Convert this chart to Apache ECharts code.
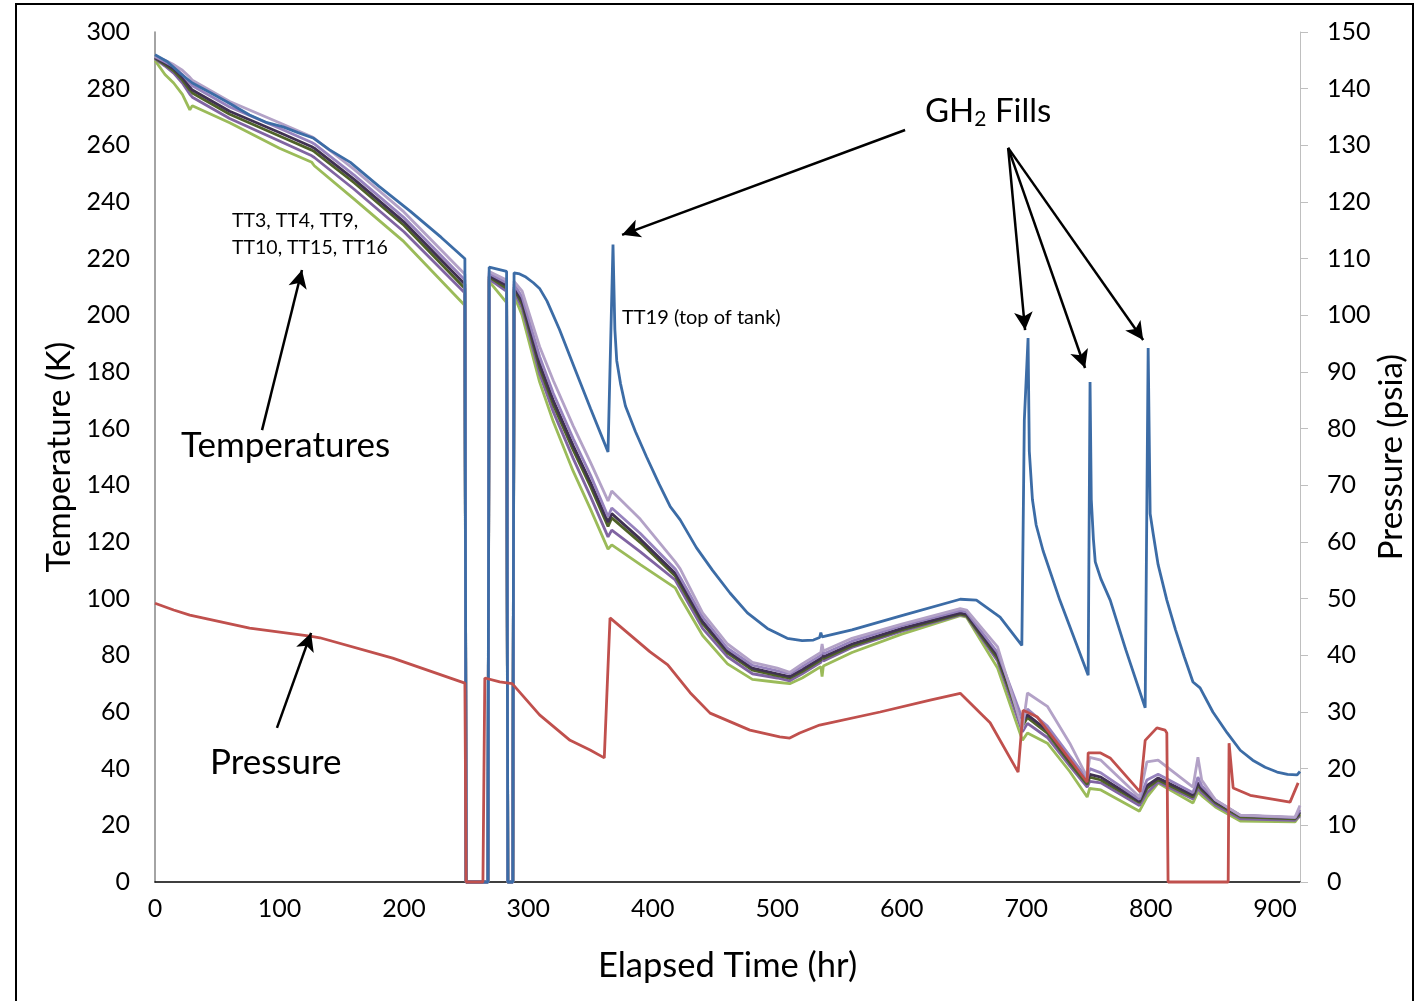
<!DOCTYPE html>
<html>
<head>
<meta charset="utf-8">
<script src="https://cdn.jsdelivr.net/npm/echarts@6/dist/echarts.min.js"></script>
<style>
  html, body { margin: 0; padding: 0; background: #fff; }
  #chart { width: 1416px; height: 1001px; }
</style>
</head>
<body>
<div id="chart"></div>
<script>
// shared time base (hr) for the six tank wall sensors
const bundleTime = [0, 8, 15, 22, 28, 30,
  60, 100, 126, 128, 160, 200, 249, 250, 267.5, 268.5, 282.5, 283.5,
  287.5, 288.5, 295, 309, 320, 336, 350, 364, 367, 390, 418, 422,
  440, 460, 480, 500, 510, 520, 535, 536, 537, 560, 600, 647,
  652, 677, 697, 701, 717, 735, 749, 751, 760, 791, 797, 806,
  834, 838, 841, 852, 872, 916, 920];

// temperatures (K)
const tt3 = [291.5, 290, 288.5, 286.5, 284, 283,
  275.5, 268, 263, 262.5, 251.5, 236.5, 214.5, 0, 0, 215.5, 212.5, 0,
  0, 212, 208.5, 189, 177, 161, 148, 134.5, 138, 128, 113, 110.5,
  95, 84, 77.5, 75.5, 74, 77, 81, 84, 81.5, 86, 91, 96.5,
  96, 83, 54, 66.7, 62, 49, 37, 44, 43, 30, 42.4, 43,
  33.5, 44, 36, 29, 23.6, 22.9, 27];
const tt4 = [291, 289, 287, 284, 280.5, 279.5,
  272, 264.5, 259.5, 259, 248, 233, 211, 0, 0, 214, 210.5, 0,
  0, 210, 205, 183, 170, 154, 141, 127, 130, 121, 109, 106,
  92, 81.5, 75.5, 73.5, 72.5, 75, 79, 82, 79.5, 84, 89.5, 95,
  94.5, 80, 56.5, 59, 53.5, 43, 35.5, 38, 37, 28.5, 34, 36.7,
  30.7, 35, 33, 28.5, 23.5, 22.6, 24.7];
const tt9 = [291.3, 289.5, 287.8, 285, 282, 281,
  273.5, 266, 261, 260.5, 249.5, 234.5, 212.5, 0, 0, 214.8, 211.5, 0,
  0, 211, 206.5, 185.5, 172.5, 156.5, 143.5, 129, 132, 123, 110.5, 107.5,
  93.5, 82.5, 76.5, 74.5, 73.5, 76, 80, 83, 80.5, 85, 90.5, 95.8,
  95.3, 81, 57.5, 61, 55, 44.5, 36.5, 40, 38.5, 29.2, 36, 38,
  31.5, 37, 34, 29, 23.5, 22.7, 25.5];
const tt10 = [290.8, 288.5, 286.3, 283, 279.5, 278.5,
  271, 263.3, 258.3, 257.8, 246.8, 231.8, 209.5, 0, 0, 213.5, 209.5, 0,
  0, 209.3, 204, 181.5, 168.5, 152.5, 139.5, 125.5, 128.5, 119.8, 108, 105,
  91.2, 80.8, 74.8, 72.8, 72, 74.3, 78.3, 81, 78.8, 83.3, 89, 94.5,
  94, 79, 55, 58, 52.5, 42, 34.5, 37, 36, 28, 33, 36,
  30, 34.2, 32.5, 28, 23, 22.3, 24];
const tt15 = [290.6, 288, 285.5, 282, 278, 277,
  269.5, 261.5, 256.3, 255.7, 244.5, 229.5, 207.9, 0, 0, 212.8, 208.5, 0,
  0, 208.5, 202.5, 179.5, 166, 149.5, 136, 121.8, 124.2, 116.5, 106.6, 103.5,
  89.5, 79.5, 73.5, 72, 71, 73.5, 77.5, 80, 78, 82.8, 88.5, 94.3,
  93.8, 78, 53, 56, 51, 41, 33.5, 35.5, 35, 27, 31.5, 35.3,
  29.3, 33, 31.5, 27.2, 22.3, 21.8, 23.3];
const tt16 = [290, 285, 282, 278, 272.5, 274,
  268, 259, 254, 252.8, 241, 226, 203.5, 0, 0, 212, 204.5, 0,
  0, 207, 200, 176.5, 162.5, 145, 131.5, 117.5, 119, 112, 103.8, 100.5,
  87, 77, 71.5, 70.5, 70, 72, 76, 72.5, 76.2, 81, 87.5, 94,
  93.5, 75.5, 50, 52.6, 49, 39, 30, 33, 32.5, 25, 30, 34.9,
  27.9, 31.8, 30.5, 26.5, 21.5, 21.2, 23.6];

// TT19, top of tank
const tt19Time = [0, 10, 20, 30, 45, 58, 76, 90, 103, 115,
  127, 140, 157, 180, 205, 230, 249, 250, 267.5, 268.5,
  282.5, 283.5, 287.5, 288.5, 293, 298, 304, 309, 315, 325,
  337, 350, 364, 368, 369.5, 371, 374, 378, 386, 395,
  405, 414, 422, 435, 448, 462, 476, 492, 508, 520,
  529, 534, 535, 536, 560, 600, 647, 660, 679, 696.5,
  698.5, 701.5, 702.5, 705, 708, 713.5, 727, 749.8, 751.3, 752.3,
  754, 755.5, 760, 767.5, 780, 795.6, 798, 799.6, 802, 806,
  813, 820, 827, 834, 839.7, 850, 861.5, 872, 882, 892,
  901.6, 910, 917.7, 920];
const tt19Temp = [292, 289.5, 285.5, 282, 278.5, 275.3, 270.7, 268, 266.5, 264.5,
  262.6, 258.5, 254, 245.5, 236.8, 227.5, 220, 0, 0, 217,
  215.5, 0, 0, 215, 214.6, 213.5, 211.5, 209.5, 205, 195,
  181.5, 167, 151.8, 225, 195, 184, 176, 168, 159, 150,
  140.5, 132.5, 127.8, 118, 110, 102, 95, 89.5, 86, 85.2,
  85.4, 86.3, 88, 86.5, 89, 94, 99.8, 99.5, 93.5, 83.5,
  163, 192, 152, 135, 126, 117, 99.5, 73, 176.5, 135,
  121, 113, 107, 99.5, 82, 61.5, 188.5, 130, 123, 112,
  99.5, 89, 79.5, 70.6, 68.5, 60, 52.6, 46.5, 43, 40.5,
  38.8, 38, 37.8, 39];

// tank pressure (psia), right axis
const pressureTime = [0, 15, 28, 76, 124.5, 132.5, 191, 249, 250, 263.5,
  265, 277, 287, 309, 333.5, 349.6, 361, 365.6, 397.8, 412,
  430, 446, 478, 502, 510, 518, 534, 582.6, 622.8, 647,
  671, 693.5, 697.5, 709, 749, 749.8, 759.4, 767.4, 791.5, 795.6,
  805, 811.6, 813, 814, 862.3, 863, 866.3, 880, 912, 918.5];
const pressurePsia = [49.2, 48, 47.1, 44.8, 43.4, 43.1, 39.5, 35.1, 0, 0,
  36, 35.3, 35, 29.5, 25, 23.3, 21.9, 46.6, 40.6, 38.3,
  33.4, 29.8, 26.8, 25.6, 25.4, 26.3, 27.7, 30, 32.1, 33.3,
  28.1, 19.4, 30.3, 29.1, 17.6, 22.8, 22.8, 21.9, 15.9, 25,
  27.2, 26.8, 26.3, 0, 0, 24.5, 16.6, 15.3, 14.1, 17.5];

// annotation arrows [t0, T0, t1, T1] in left-axis units
const arrows = [
  [602.7, 265.4, 375.3, 228.4],
  [685.5, 259.1, 699.1, 194.8],
  [685.5, 259.1, 747.3, 181.4],
  [685.5, 259.1, 794, 191.3],
  [86, 159.5, 118.1, 216],
  [98, 54.4, 125.4, 87.9]
];

const FONT = 'Lato';

function pairs(xs, ys) {
  return xs.map((x, i) => [x, ys[i]]);
}

function lineSerie(name, color, time, values, axis) {
  return {
    name: name,
    type: 'line',
    yAxisIndex: axis,
    data: pairs(time, values),
    showSymbol: false,
    symbol: 'none',
    clip: false,
    lineStyle: { color: color, width: 2.8 },
    emphasis: { disabled: true }
  };
}

let series = [
  lineSerie('TT16', '#9BBB59', bundleTime, tt16, 0),
  lineSerie('TT15', '#8064A2', bundleTime, tt15, 0),
  lineSerie('TT10', '#4F6228', bundleTime, tt10, 0),
  lineSerie('TT4', '#403152', bundleTime, tt4, 0),
  lineSerie('TT9', '#9783BE', bundleTime, tt9, 0),
  lineSerie('TT3', '#B3A2C7', bundleTime, tt3, 0),
  lineSerie('TT19', '#3C6CA6', tt19Time, tt19Temp, 0),
  lineSerie('Pressure', '#C0504D', pressureTime, pressurePsia, 1),
  {
    type: 'line',
    yAxisIndex: 0,
    data: [],
    silent: true,
    markLine: {
      silent: true,
      animation: false,
      symbol: ['none', 'arrow'],
      symbolSize: [14, 18],
      label: { show: false },
      emphasis: { disabled: true },
      lineStyle: { color: '#000', width: 2.5, type: 'solid' },
      data: arrows.map(a => [{ coord: [a[0], a[1]] }, { coord: [a[2], a[3]] }])
    }
  }
];

const labelStyle = { color: '#000', fontSize: 25, fontFamily: FONT };
const nameStyle = { color: '#000', fontSize: 33, fontFamily: FONT };

let option = {
  animation: false,
  backgroundColor: '#fff',
  grid: { left: 155, right: 116, top: 32, bottom: 119, outerBoundsMode: 'none', containLabel: false },
  xAxis: {
    type: 'value', min: 0, max: 920, interval: 100,
    name: 'Elapsed Time (hr)', nameLocation: 'middle', nameGap: 66,
    nameTextStyle: Object.assign({}, nameStyle, { fontSize: 34.5 }),
    axisLine: { lineStyle: { color: '#000', width: 1.5 } },
    axisTick: { show: false },
    splitLine: { show: false },
    axisLabel: Object.assign({ margin: 14, showMaxLabel: false }, labelStyle)
  },
  yAxis: [{
    type: 'value', min: 0, max: 300, interval: 20, position: 'left',
    name: 'Temperature (K)', nameLocation: 'middle', nameRotate: 90, nameGap: 78,
    nameTextStyle: nameStyle,
    axisLine: { show: true, lineStyle: { color: '#868686', width: 1.5 } },
    axisTick: { show: false },
    splitLine: { show: false },
    axisLabel: Object.assign({ margin: 25 }, labelStyle)
  }, {
    type: 'value', min: 0, max: 150, interval: 10, position: 'right',
    axisLine: { show: true, lineStyle: { color: '#BFBFBF', width: 1 } },
    axisTick: { show: true, length: 8, lineStyle: { color: '#BFBFBF' } },
    splitLine: { show: false },
    axisLabel: Object.assign({ margin: 27 }, labelStyle)
  }],
  graphic: [
    { type: 'rect', shape: { x: 16, y: 4, width: 1397, height: 1010 },
      style: { fill: 'none', stroke: '#000', lineWidth: 2 }, silent: true },
    { type: 'text', x: 1391, y: 457, rotation: Math.PI / 2, silent: true,
      style: { text: 'Pressure (psia)', fontSize: 33, fontFamily: FONT, fill: '#000',
        align: 'center', verticalAlign: 'middle' } },
    { type: 'text', x: 925, y: 92, silent: true,
      style: { text: '{a|GH}{b|2}{a| Fills}', fill: '#000',
        rich: { a: { fontSize: 33, fontFamily: FONT, fill: '#000' },
                b: { fontSize: 21, fontFamily: FONT, fill: '#000', padding: [17, 0, 0, 0] } } } },
    { type: 'text', x: 622, y: 318, silent: true,
      style: { text: 'TT19 (top of tank)', fontSize: 20, fontFamily: FONT, fill: '#000', verticalAlign: 'middle' } },
    { type: 'text', x: 232, y: 221, silent: true,
      style: { text: 'TT3, TT4, TT9,', fontSize: 19.5, fontFamily: FONT, fill: '#000', verticalAlign: 'middle' } },
    { type: 'text', x: 232, y: 248, silent: true,
      style: { text: 'TT10, TT15, TT16', fontSize: 19.5, fontFamily: FONT, fill: '#000', verticalAlign: 'middle' } },
    { type: 'text', x: 181, y: 446, silent: true,
      style: { text: 'Temperatures', fontSize: 35, fontFamily: FONT, fill: '#000', verticalAlign: 'middle' } },
    { type: 'text', x: 210, y: 763, silent: true,
      style: { text: 'Pressure', fontSize: 35, fontFamily: FONT, fill: '#000', verticalAlign: 'middle' } }
  ],
  series: series
};

let chart = echarts.init(document.getElementById('chart'), null, { renderer: 'canvas' });
chart.setOption(option);
</script>
</body>
</html>
